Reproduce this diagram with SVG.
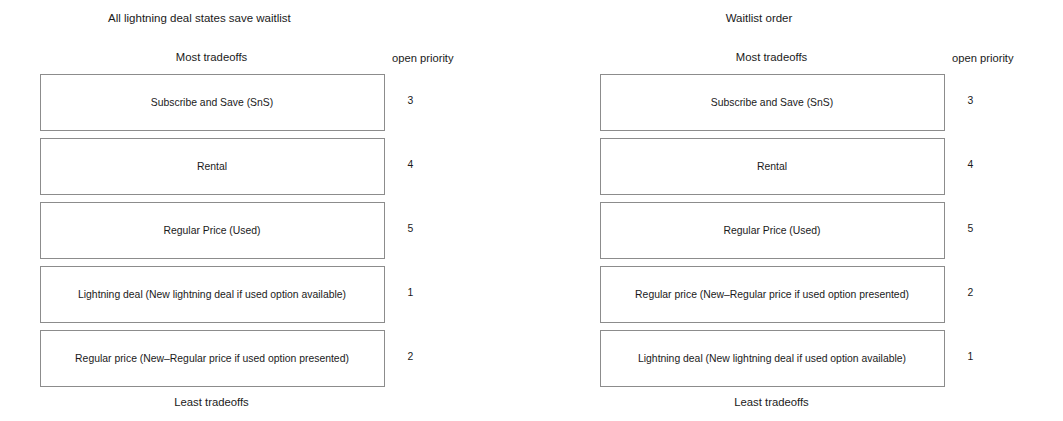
<svg xmlns="http://www.w3.org/2000/svg" width="1063" height="421" viewBox="0 0 1063 421">
<style>
text{font-family:"Liberation Sans",Arial,sans-serif;fill:#1a1a1a}
.t{font-size:11.5px}
.h{font-size:11.3px;text-anchor:middle}
.p{font-size:11.2px}
.l{font-size:10.4px;text-anchor:middle}
.n{font-size:10.4px;text-anchor:middle}
rect{fill:#fff;stroke:#8c8c8c;stroke-width:1}
</style>
<rect x="0" y="0" width="1063" height="421" style="stroke:none"/>
<g id="left-header">
<text class="t" x="108" y="22">All lightning deal states save waitlist</text>
<text class="h" x="211.5" y="61">Most tradeoffs</text>
<text class="p" x="392" y="62">open priority</text>
</g>
<g id="L1"><rect x="40.5" y="74.5" width="344" height="56"/><text class="l" x="212" y="106">Subscribe and Save (SnS)</text><text class="n" x="410.5" y="104">3</text></g>
<g id="L2"><rect x="40.5" y="138.5" width="344" height="56"/><text class="l" x="212" y="170">Rental</text><text class="n" x="410.5" y="168">4</text></g>
<g id="L3"><rect x="40.5" y="202.5" width="344" height="56"/><text class="l" x="212" y="234">Regular Price (Used)</text><text class="n" x="410.5" y="232">5</text></g>
<g id="L4"><rect x="40.5" y="266.5" width="344" height="56"/><text class="l" x="212" y="298">Lightning deal (New lightning deal if used option available)</text><text class="n" x="410.5" y="296">1</text></g>
<g id="L5"><rect x="40.5" y="330.5" width="344" height="56"/><text class="l" x="212" y="362">Regular price (New–Regular price if used option presented)</text><text class="n" x="410.5" y="360">2</text></g>
<g id="left-footer"><text class="h" x="211.5" y="406">Least tradeoffs</text></g>

<g id="right-header">
<text class="t" x="759" y="22" text-anchor="middle">Waitlist order</text>
<text class="h" x="771.5" y="61">Most tradeoffs</text>
<text class="p" x="952" y="62">open priority</text>
</g>
<g id="R1"><rect x="600.5" y="74.5" width="344" height="56"/><text class="l" x="772" y="106">Subscribe and Save (SnS)</text><text class="n" x="970.5" y="104">3</text></g>
<g id="R2"><rect x="600.5" y="138.5" width="344" height="56"/><text class="l" x="772" y="170">Rental</text><text class="n" x="970.5" y="168">4</text></g>
<g id="R3"><rect x="600.5" y="202.5" width="344" height="56"/><text class="l" x="772" y="234">Regular Price (Used)</text><text class="n" x="970.5" y="232">5</text></g>
<g id="R4"><rect x="600.5" y="266.5" width="344" height="56"/><text class="l" x="772" y="298">Regular price (New–Regular price if used option presented)</text><text class="n" x="970.5" y="296">2</text></g>
<g id="R5"><rect x="600.5" y="330.5" width="344" height="56"/><text class="l" x="772" y="362">Lightning deal (New lightning deal if used option available)</text><text class="n" x="970.5" y="360">1</text></g>
<g id="right-footer"><text class="h" x="771.5" y="406">Least tradeoffs</text></g>
<g id="connectors"/>
</svg>
